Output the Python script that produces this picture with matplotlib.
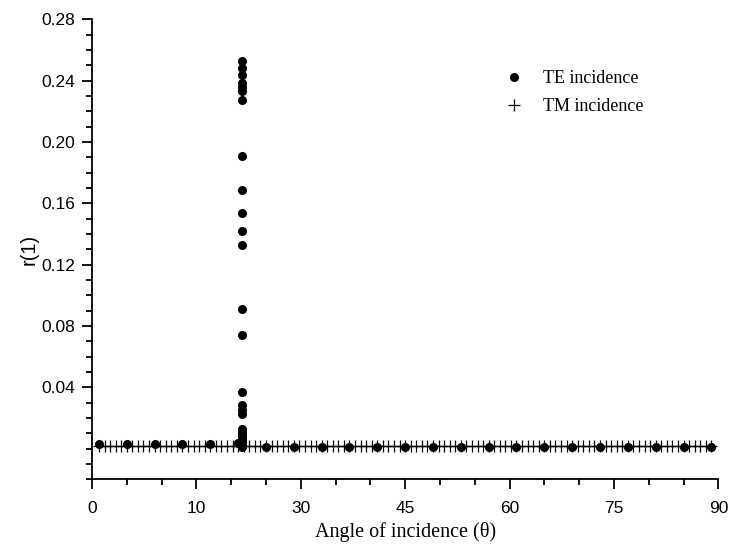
import matplotlib
matplotlib.use('Agg')
import matplotlib.pyplot as plt
from matplotlib.ticker import MultipleLocator, FixedLocator
import numpy as np

# TE incidence: coarse scan either side of the resonance
te_left_angle = [1, 5, 9, 13, 17, 21]
te_left_r = [0.0028, 0.0028, 0.0028, 0.0028, 0.0028, 0.0038]
te_right_angle = [25, 29, 33, 37, 41, 45, 49, 53, 57, 61, 65, 69, 73, 77, 81, 85, 89]
te_right_r = [0.0011] * 17
# fine scan at the resonance (all at about 21.5 deg)
te_peak_angle = [21.5] * 26
te_peak_r = [0.2526, 0.2481, 0.2434, 0.2384, 0.2358, 0.2332, 0.2271, 0.1908,
             0.1687, 0.1535, 0.1417, 0.1330, 0.0909, 0.0742, 0.0372, 0.0286,
             0.0250, 0.0228, 0.0130, 0.0110, 0.0095, 0.0080, 0.0065, 0.0045,
             0.0025, 0.0012]

# TM incidence: flat everywhere
tm_angle = [1.0, 1.8, 2.6, 3.4, 4.2, 5.0, 5.8, 6.6, 7.4, 8.2, 9.0, 9.8, 10.6, 11.4,
            12.2, 13.0, 13.8, 14.6, 15.4, 16.2, 17.0, 17.8, 18.6, 19.4, 20.2, 21.0,
            21.8, 22.6, 23.4, 24.2, 25.0, 25.8, 26.6, 27.4, 28.2, 29.0, 29.8, 30.6,
            31.4, 32.2, 33.0, 33.8, 34.6, 35.4, 36.2, 37.0, 37.8, 38.6, 39.4, 40.2,
            41.0, 41.8, 42.6, 43.4, 44.2, 45.0, 45.8, 46.6, 47.4, 48.2, 49.0, 49.8,
            50.6, 51.4, 52.2, 53.0, 53.8, 54.6, 55.4, 56.2, 57.0, 57.8, 58.6, 59.4,
            60.2, 61.0, 61.8, 62.6, 63.4, 64.2, 65.0, 65.8, 66.6, 67.4, 68.2, 69.0,
            69.8, 70.6, 71.4, 72.2, 73.0, 73.8, 74.6, 75.4, 76.2, 77.0, 77.8, 78.6,
            79.4, 80.2, 81.0, 81.8, 82.6, 83.4, 84.2, 85.0, 85.8, 86.6, 87.4, 88.2,
            89.0]
tm_r = [0.0016] * len(tm_angle)

xticks = [0, 15, 30, 45, 60, 75, 90]
xtick_labels = ['0', '10', '30', '45', '60', '75', '90']
yticks = [0.04, 0.08, 0.12, 0.16, 0.20, 0.24, 0.28]

sans = ['Liberation Sans', 'DejaVu Sans']
serif = ['Liberation Serif', 'DejaVu Serif']

fig = plt.figure(figsize=(7.3, 5.44), dpi=100)
ax = fig.add_axes([0.126, 0.119, 0.858, 0.8456])

ax.plot(tm_angle, tm_r, color='black', linewidth=0.9, marker='+',
        markersize=9, markeredgewidth=0.9, label='TM incidence', zorder=2)
te_angle = te_left_angle + te_peak_angle + te_right_angle
te_r = te_left_r + te_peak_r + te_right_r
ax.plot(te_angle, te_r, linestyle='none', marker='o', color='black',
        markersize=5.5, label='TE incidence', zorder=3)

ax.set_xlim(0, 90)
ax.set_ylim(-0.02, 0.28)
ax.xaxis.set_major_locator(FixedLocator(xticks))
ax.set_xticklabels(xtick_labels)
ax.xaxis.set_minor_locator(MultipleLocator(5))
ax.yaxis.set_major_locator(FixedLocator(yticks))
ax.set_yticklabels(['%.2f' % v for v in yticks])
ax.yaxis.set_minor_locator(MultipleLocator(0.01))

for s in ['top', 'right']:
    ax.spines[s].set_visible(False)
for s in ['left', 'bottom']:
    ax.spines[s].set_linewidth(1.3)
ax.tick_params(which='major', direction='out', length=7, width=1.3,
               labelsize=12.5)
ax.tick_params(axis='x', which='major', pad=9)
ax.tick_params(axis='y', which='major', pad=5)
ax.tick_params(which='minor', direction='out', length=4, width=1.3)
for lab in ax.get_xticklabels() + ax.get_yticklabels():
    lab.set_family(sans)

ax.set_xlabel('Angle of incidence (\u03b8)', family=serif, fontsize=14.5, labelpad=4)
ax.set_ylabel('r(1)', fontfamily=sans, fontsize=14.5, labelpad=2)

handles, labels = ax.get_legend_handles_labels()
leg = ax.legend(handles[::-1], labels[::-1], loc='upper left',
                bbox_to_anchor=(0.63, 0.925), frameon=False,
                prop={'family': serif, 'size': 13}, handletextpad=1.0,
                labelspacing=0.6, handlelength=1.2)
leg.legend_handles[1].set_linestyle('none')

fig.savefig('out.png', dpi=100)
